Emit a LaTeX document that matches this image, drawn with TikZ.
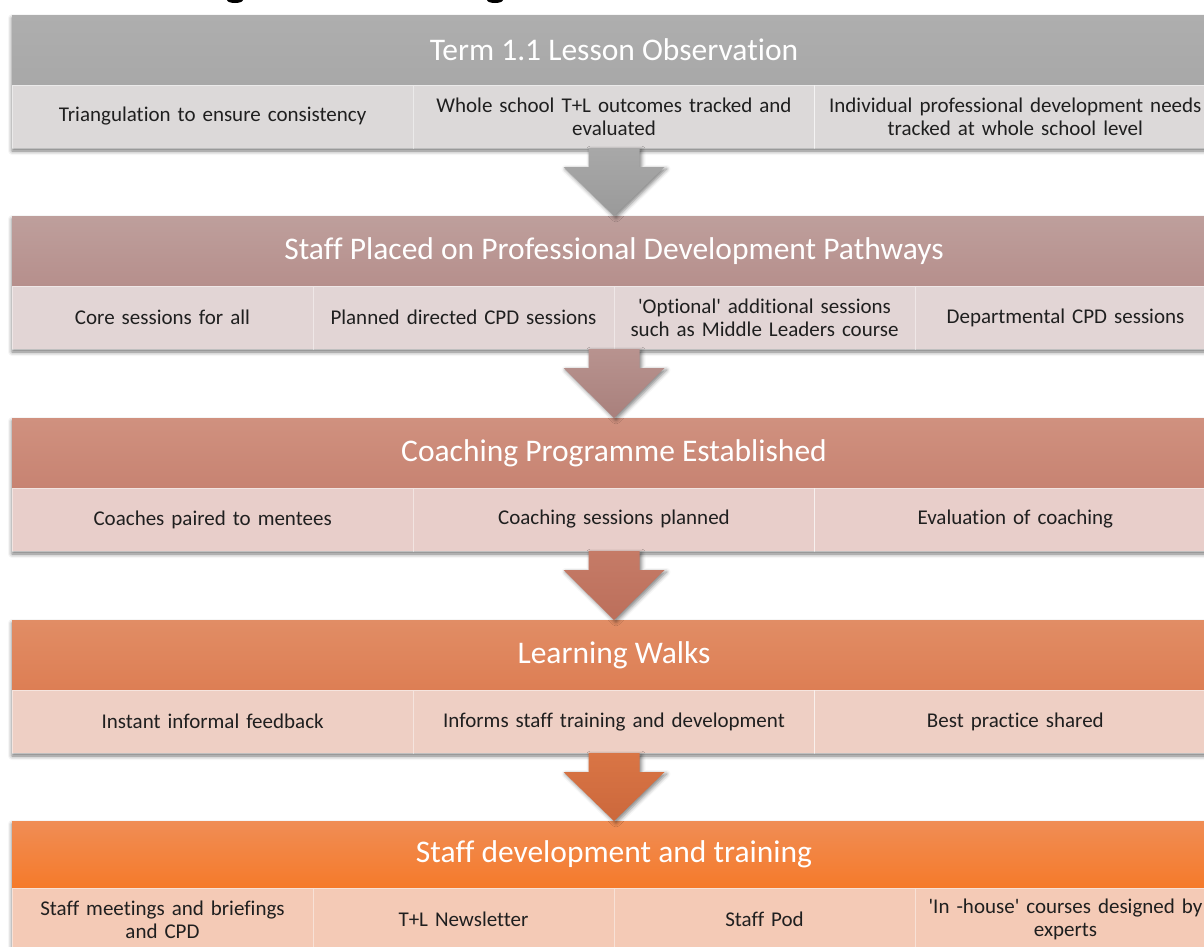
\documentclass[tikz,border=0pt]{standalone}
\usepackage{fontspec}
\setmainfont{Carlito}[RawFeature={-liga;-clig;-dlig;-rlig;-calt}]
\usetikzlibrary{calc,shadows.blur}
\definecolor{hoa}{HTML}{AEAEAE}\definecolor{hob}{HTML}{A8A8A8}\definecolor{roa}{HTML}{DCD9D9}
\definecolor{aoa}{HTML}{A8A8A8}\definecolor{aob}{HTML}{9A9A9A}
\definecolor{hta}{HTML}{BE9F9C}\definecolor{htb}{HTML}{B68F8C}\definecolor{rta}{HTML}{E2D5D5}
\definecolor{ata}{HTML}{B8938F}\definecolor{atb}{HTML}{A9807C}
\definecolor{hra}{HTML}{D0917F}\definecolor{hrb}{HTML}{C78372}\definecolor{rra}{HTML}{E8CECA}
\definecolor{ara}{HTML}{C57B67}\definecolor{arb}{HTML}{BC6F5B}
\definecolor{hfa}{HTML}{E18D65}\definecolor{hfb}{HTML}{DD7E54}\definecolor{rfa}{HTML}{EECFC4}
\definecolor{afa}{HTML}{D97545}\definecolor{afb}{HTML}{CC683C}
\definecolor{hva}{HTML}{F08D55}\definecolor{hvb}{HTML}{F57A2A}\definecolor{rva}{HTML}{F4CAB6}
\definecolor{celltext}{HTML}{1F1F1F}
\newcommand\blkarrow[4]{%
  \path[arrowsty, top color=#3, bottom color=#4]
    let \p1=(#1), \p2=(#2) in
    (\x1-25.5pt,\y1) -- (\x1+25.5pt,\y1) -- (\x1+25.5pt,\y1-19pt) -- (\x1+50.5pt,\y1-19pt)
    -- (\x2,\y2) -- (\x1-50.5pt,\y1-19pt) -- (\x1-25.5pt,\y1-19pt) -- cycle;}
\begin{document}
\begin{tikzpicture}[x=1pt,y=-1pt,
  blk/.style={rectangle, anchor=north west, minimum width=1204pt, minimum height=133pt,
    inner sep=0pt, outer sep=0pt, fill=white,
    blur shadow={shadow xshift=0pt, shadow yshift=-3pt, shadow blur radius=4pt, shadow opacity=55}},
  hdr/.style={rectangle, anchor=north west, minimum width=1204pt, minimum height=70pt,
    inner sep=0pt, outer sep=0pt, text=white, font=\fontsize{31.5}{36}\selectfont},
  cell/.style={rectangle, anchor=north west, minimum height=63pt, inner sep=0pt, outer sep=0pt,
    align=center, text=celltext, font=\fontsize{21}{23}\selectfont,
    draw=white, draw opacity=0.45, line width=0.8pt},
  c3/.style={cell, minimum width=401.33pt, text width=395pt},
  c4/.style={cell, minimum width=301pt, text width=295pt},
  arrowsty/.style={blur shadow={shadow xshift=2pt, shadow yshift=-2pt, shadow blur radius=4pt, shadow opacity=50}},
  blob/.style={fill=black}
]
\useasboundingbox (0,0) rectangle (1204,946);
\clip (0,0) rectangle (1204,946);
% fragments of a title cut at the top edge
\fill[blob] (227,0) arc[start angle=180, end angle=360, x radius=8pt, y radius=3pt] -- cycle;
\fill[blob] (487,0) arc[start angle=180, end angle=360, x radius=8pt, y radius=3pt] -- cycle;

% block shadows
\node[blk] (b1) at (12,15) {};
\node[blk] (b2) at (12,216) {};
\node[blk] (b3) at (12,418) {};
\node[blk] (b4) at (12,620) {};
\node[blk] (b5) at (12,821) {};

% block 1
\node[hdr, top color=hoa, bottom color=hob] (h1) at (12,15) {Term 1.1 Lesson Observation};
\node[c3, fill=roa] (r1a) at (12,85) {Triangulation to ensure consistency};
\node[c3, fill=roa] (r1b) at (413.33,85) {Whole school T+L outcomes tracked and\\evaluated};
\node[c3, fill=roa] (r1c) at (814.67,85) {Individual professional development needs\\tracked at whole school level};

% block 2
\node[hdr, top color=hta, bottom color=htb] (h2) at (12,216) {Staff Placed on Professional Development Pathways};
\node[c4, fill=rta] (r2a) at (12,286) {Core sessions for all};
\node[c4, fill=rta] (r2b) at (313,286) {Planned directed CPD sessions};
\node[c4, fill=rta] (r2c) at (614,286) {\textquotesingle Optional\textquotesingle{} additional sessions\\such as Middle Leaders course};
\node[c4, fill=rta] (r2d) at (915,286) {Departmental CPD sessions};

% block 3
\node[hdr, top color=hra, bottom color=hrb] (h3) at (12,418) {Coaching Programme Established};
\node[c3, fill=rra] (r3a) at (12,488) {Coaches paired to mentees};
\node[c3, fill=rra] (r3b) at (413.33,488) {Coaching sessions planned};
\node[c3, fill=rra] (r3c) at (814.67,488) {Evaluation of coaching};

% block 4
\node[hdr, top color=hfa, bottom color=hfb] (h4) at (12,620) {Learning Walks};
\node[c3, fill=rfa] (r4a) at (12,690) {Instant informal feedback};
\node[c3, fill=rfa] (r4b) at (413.33,690) {Informs staff training and development};
\node[c3, fill=rfa] (r4c) at (814.67,690) {Best practice shared};

% block 5
\node[hdr, top color=hva, bottom color=hvb, minimum height=67pt] (h5) at (12,821) {Staff development and training};
\node[c4, fill=rva] (r5a) at (12,888) {Staff meetings and briefings\\and CPD};
\node[c4, fill=rva] (r5b) at (313,888) {T+L Newsletter};
\node[c4, fill=rva] (r5c) at (614,888) {Staff Pod};
\node[c4, fill=rva] (r5d) at (915,888) {\textquotesingle In -house\textquotesingle{} courses designed by\\experts};

% block arrows
\blkarrow{h1.south |- r1a.south}{h2.north}{aoa}{aob}
\blkarrow{h2.south |- r2a.south}{h3.north}{ata}{atb}
\blkarrow{h3.south |- r3a.south}{h4.north}{ara}{arb}
\blkarrow{h4.south |- r4a.south}{h5.north}{afa}{afb}
\end{tikzpicture}
\end{document}
